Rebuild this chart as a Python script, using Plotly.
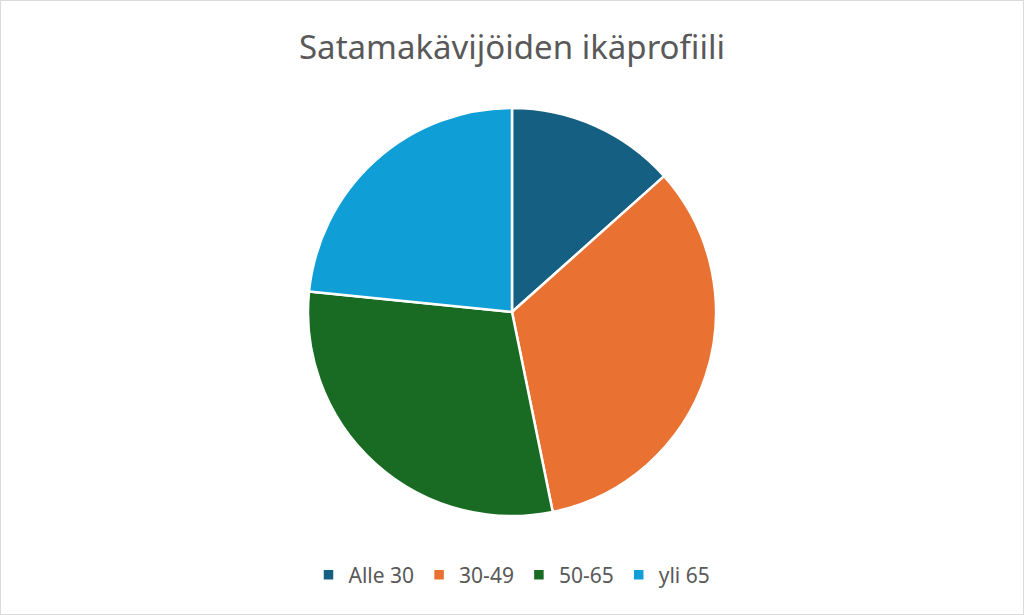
import plotly.graph_objects as go

categories = ["Alle 30", "30-49", "50-65", "yli 65"]
values = [13.4, 33.4, 29.8, 23.4]
colors = ["#156082", "#E97132", "#196B24", "#0F9ED5"]
title_text = "Satamakävijöiden ikäprofiili"

W, H = 1024, 615
cx, cy, r = 512, 312, 204

fig = go.Figure(go.Pie(
    labels=categories,
    values=values,
    sort=False,
    direction="clockwise",
    rotation=0,
    marker=dict(colors=colors, line=dict(color="white", width=2.5)),
    textinfo="none",
    hoverinfo="label+percent",
    domain=dict(x=[(cx - r) / W, (cx + r) / W],
                y=[(H - cy - r) / H, (H - cy + r) / H]),
))

fig.update_layout(
    width=W, height=H,
    margin=dict(l=0, r=0, t=0, b=0),
    paper_bgcolor="white",
    plot_bgcolor="white",
    title=dict(text=title_text, x=0.5, xanchor="center",
               y=(H - 47) / H, yanchor="middle",
               font=dict(family="Noto Sans", size=33, color="#595959")),
    legend=dict(orientation="h", x=0.5, xanchor="center",
                y=(H - 575) / H, yanchor="middle",
                font=dict(family="Noto Sans", size=21, color="#595959"),
                itemwidth=30, traceorder="normal"),
    shapes=[dict(type="rect", xref="paper", yref="paper",
                 x0=0.5 / W, x1=1 - 0.5 / W, y0=0.5 / H, y1=1 - 0.5 / H,
                 line=dict(color="#D9D9D9", width=1), fillcolor="rgba(0,0,0,0)",
                 layer="below")],
)

fig.write_html("out.html",
               config={"displayModeBar": False},
               post_script="document.body.style.margin='0';document.body.style.overflow='hidden';")
